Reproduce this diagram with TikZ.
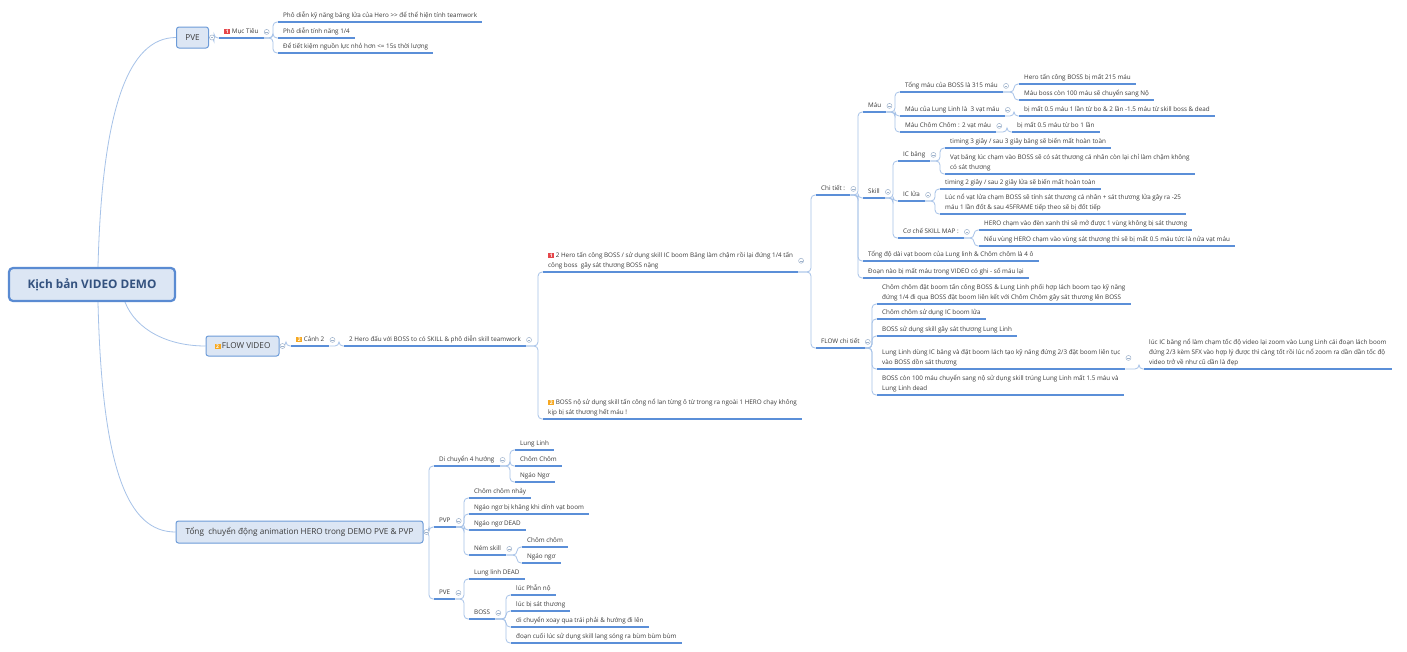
\documentclass[tikz,border=0pt]{standalone}
\usepackage{fontspec}
\setmainfont{Open Sans}
\usetikzlibrary{calc}
\pgfdeclarelayer{bg}
\pgfsetlayers{bg,main}
\definecolor{txt}{HTML}{3A3A3A}
\definecolor{ulc}{HTML}{5B8FD8}
\definecolor{cnc}{HTML}{A6C2E8}
\definecolor{boxf}{HTML}{DCE6F4}
\definecolor{boxd}{HTML}{6C9BD8}
\definecolor{rootd}{HTML}{5A8BD2}
\definecolor{roott}{HTML}{34527F}
\definecolor{icred}{HTML}{E5474B}
\definecolor{icorg}{HTML}{F6A821}
\definecolor{togc}{HTML}{9FB3CC}
\newcommand\fs{\fontsize{6.3}{9.8}\selectfont}
\newcommand\ico[2]{{\setlength\fboxsep{0.8pt}\colorbox{#1}{\makebox[4.4pt]{\textcolor{white}{\fontsize{5}{5}\selectfont\bfseries #2}}}}}
\newcommand\cnx[2]{\draw[cn] (#1.south east) -- ($(#1.south east -| #2.south west)+(-5pt,0)$) |- (#2.south west);}
\newcommand\cnb[2]{\draw[cn] (#1.east) -- ($(#1.east -| #2.south west)+(-5pt,0)$) |- (#2.south west);}
\newcommand\tg[1]{\node[tog] (#1-tg) at ($(#1.east)+(3pt,0)$) {};}
\tikzset{
  t/.style={font=\fs, text=txt, inner xsep=5pt, inner ysep=2.8pt, anchor=south west, text height=4.8pt, text depth=1.4pt, append after command={(\tikzlastnode.south west) edge[ul] (\tikzlastnode.south east)}},
  tm/.style={font=\fs, text=txt, inner xsep=5pt, inner ysep=2.8pt, anchor=south west, align=left, append after command={(\tikzlastnode.south west) edge[ul] (\tikzlastnode.south east)}},
  ul/.style={draw=ulc, line width=1.6pt},
  cn/.style={draw=cnc, line width=0.8pt, rounded corners=4pt},
  box/.style={draw=boxd, fill=boxf, line width=1pt, rounded corners=2.5pt, text=txt, font=\fontsize{8.2}{9.5}\selectfont, inner sep=0pt},
  root/.style={draw=rootd, fill=boxf, line width=2.2pt, rounded corners=4pt, text=roott, font=\fontsize{11.8}{13}\selectfont\bfseries, minimum width=166pt, minimum height=33pt},
  rc/.style={draw=cnc, line width=0.8pt},
  tog/.style={circle, draw=togc, fill=white, line width=0.5pt, minimum size=5pt, inner sep=0pt, path picture={\draw[togc,line width=0.5pt] ([xshift=-1.4pt]path picture bounding box.center) -- ([xshift=1.4pt]path picture bounding box.center);}},
}
\begin{document}
\begin{tikzpicture}[x=1pt,y=-1pt]
\begin{pgfonlayer}{bg}\fill[white] (0,0) rectangle (1407,651);\end{pgfonlayer}
\useasboundingbox (0,0) rectangle (1407,651);
% main boxes
\node[root] (root) at (92,284.5) {Kịch bản VIDEO DEMO};
\node[box,minimum width=32pt,minimum height=21pt] (pve) at (192.5,37.5) {PVE};
\node[box,minimum width=73pt,minimum height=20pt] (flow) at (242.5,346) {\ico{icorg}{2}\,FLOW VIDEO};
\node[box,minimum width=247pt,minimum height=22pt] (tong) at (299.5,532) {Tổng\ \ chuyển động animation HERO trong DEMO PVE \& PVP};
% PVE
\node[t] (muc) at (219,38) {\ico{icred}{1} Mục Tiêu};
\node[t] (m1) at (278,22) {Phô diễn kỹ năng băng lửa của Hero {>}{>} để thể hiện tính teamwork};
\node[t] (m2) at (278,38) {Phô diễn tính năng 1/4};
\node[t] (m3) at (278,53) {Để tiết kiệm nguồn lực nhỏ hơn <= 15s thời lượng};
% FLOW
\node[t] (canh) at (291,346) {\ico{icorg}{2} Cảnh 2};
\node[t] (h2) at (344,346) {2 Hero đấu với BOSS to có SKILL \& phô diễn skill teamwork};
\node[tm] (ha) at (543,272) {\ico{icred}{1} 2 Hero tấn công BOSS / sử dụng skill IC boom Băng làm chậm rồi lại đứng 1/4 tấn\\công boss\ \ gây sát thương BOSS nặng};
\node[tm] (hb) at (543,419) {\ico{icorg}{2} BOSS nộ sử dụng skill tấn công nổ lan từng ô từ trong ra ngoài 1 HERO chạy không\\kịp bị sát thương hết máu !};
\node[t] (ct) at (816,195) {Chi tiết :};
\node[t] (fct) at (816,348) {FLOW chi tiết};
\node[t] (mau) at (863,112) {Máu};
\node[t] (skill) at (863,198) {Skill};
\node[t] (tdd) at (863,261) {Tổng độ dài vạt boom của Lung linh \& Chôm chôm là 4 ô};
\node[t] (dn) at (863,278) {Đoạn nào bị mất máu trong VIDEO có ghi - số máu lại};
\node[t] (tm) at (900,92) {Tổng máu của BOSS là 315 máu};
\node[t] (ml) at (900,116) {Máu của Lung Linh là\ \ 3 vạt máu};
\node[t] (mc) at (900,132) {Máu Chôm Chôm : 2 vạt máu};
\node[t] (tm1) at (1019,84) {Hero tấn công BOSS bị mất 215 máu};
\node[t] (tm2) at (1019,100) {Máu boss còn 100 máu sẽ chuyển sang Nộ};
\node[t] (ml1) at (1019,116) {bị mất 0.5 máu 1 lần từ bo \& 2 lần -1.5 máu từ skill boss \& dead};
\node[t] (mc1) at (1012,132) {bị mất 0.5 máu từ bo 1 lần};
\node[t] (icb) at (898,161) {IC băng};
\node[t] (icl) at (898,201) {IC lửa};
\node[t] (cc) at (898,238) {Cơ chế SKILL MAP :};
\node[t] (icb1) at (945,148) {timing 3 giây / sau 3 giây băng sẽ biến mất hoàn toàn};
\node[tm] (icb2) at (945,174) {Vạt băng lúc chạm vào BOSS sẽ có sát thương cá nhân còn lại chỉ làm chậm không\\có sát thương};
\node[t] (icl1) at (940,189) {timing 2 giây / sau 2 giây lửa sẽ biến mất hoàn toàn};
\node[tm] (icl2) at (940,214) {Lúc nổ vạt lửa chạm BOSS sẽ tính sát thương cá nhân + sát thương lửa gây ra -25\\máu 1 lần đốt \& sau 45FRAME tiếp theo sẽ bị đốt tiếp};
\node[t] (cc1) at (979,230) {HERO chạm vào đèn xanh thì sẽ mở được 1 vùng không bị sát thương};
\node[t] (cc2) at (979,246) {Nếu vùng HERO chạm vào vùng sát thương thì sẽ bị mất 0.5 máu tức là nửa vạt máu};
\node[tm] (f1) at (877,304) {Chôm chôm đặt boom tấn công BOSS \& Lung Linh phối hợp lách boom tạo kỹ năng\\đứng 1/4 đi qua BOSS đặt boom liên kết với Chôm Chôm gây sát thương lên BOSS};
\node[t] (f2) at (877,319) {Chôm chôm sử dụng IC boom lửa};
\node[t] (f3) at (877,336) {BOSS sử dụng skill gây sát thương Lung Linh};
\node[tm] (f4) at (877,369) {Lung Linh dùng IC băng và đặt boom lách tạo kỹ năng đứng 2/3 đặt boom liên tục\\vào BOSS dồn sát thương};
\node[tm] (f4a) at (1144,369) {lúc IC băng nổ làm chạm tốc độ video lại zoom vào Lung Linh cái đoạn lách boom\\đứng 2/3 kèm SFX vào hợp lý được thì càng tốt rồi lúc nổ zoom ra dần dần tốc độ\\video trở về như cũ dần là đẹp};
\node[tm] (f5) at (877,395) {BOSS còn 100 máu chuyển sang nộ sử dụng skill trúng Lung Linh mất 1.5 máu và\\Lung Linh dead};
% bottom
\node[t] (dc) at (434,466) {Di chuyển 4 hướng};
\node[t] (pvp) at (434,527) {PVP};
\node[t] (pve2) at (434,599) {PVE};
\node[t] (dc1) at (515,450) {Lung Linh};
\node[t] (dc2) at (515,466) {Chôm Chôm};
\node[t] (dc3) at (515,482) {Ngáo Ngơ};
\node[t] (p1) at (469,498) {Chôm chôm nhảy};
\node[t] (p2) at (469,514) {Ngáo ngơ bị khăng khi dính vạt boom};
\node[t] (p3) at (469,530) {Ngáo ngơ DEAD};
\node[t] (p4) at (469,555) {Ném skill};
\node[t] (p41) at (522,547) {Chôm chôm};
\node[t] (p42) at (522,563) {Ngáo ngơ};
\node[t] (e1) at (469,579) {Lung linh DEAD};
\node[t] (e2) at (469,619) {BOSS};
\node[t] (b1) at (511,595) {lúc Phẫn nộ};
\node[t] (b2) at (511,611) {lúc bị sát thương};
\node[t] (b3) at (511,627) {di chuyển xoay qua trái phải \& hướng đi lên};
\node[t] (b4) at (511,643) {đoạn cuối lúc sử dụng skill lang sóng ra bùm bùm bùm};
% connectors
\begin{pgfonlayer}{bg}
\draw[rc] ($(root.north)+(6,0)$) .. controls (102,110) and (128,37.5) .. (pve.west);
\draw[rc] ($(root.south)+(33,0)$) .. controls (136,330) and (168,346) .. (flow.west);
\draw[rc] ($(root.south)+(6,0)$) .. controls (102,470) and (128,532) .. (tong.west);
\cnb{pve}{muc}
\cnx{muc}{m1}\cnx{muc}{m2}\cnx{muc}{m3}
\cnb{flow}{canh}
\cnx{canh}{h2}
\cnx{h2}{ha}\cnx{h2}{hb}
\cnx{ha}{ct}\cnx{ha}{fct}
\cnx{ct}{mau}\cnx{ct}{skill}\cnx{ct}{tdd}\cnx{ct}{dn}
\cnx{mau}{tm}\cnx{mau}{ml}\cnx{mau}{mc}
\cnx{tm}{tm1}\cnx{tm}{tm2}
\cnx{ml}{ml1}\cnx{mc}{mc1}
\cnx{skill}{icb}\cnx{skill}{icl}\cnx{skill}{cc}
\cnx{icb}{icb1}\cnx{icb}{icb2}
\cnx{icl}{icl1}\cnx{icl}{icl2}
\cnx{cc}{cc1}\cnx{cc}{cc2}
\cnx{fct}{f1}\cnx{fct}{f2}\cnx{fct}{f3}\cnx{fct}{f4}\cnx{fct}{f5}
\cnx{f4}{f4a}
\cnb{tong}{dc}\cnb{tong}{pvp}\cnb{tong}{pve2}
\cnx{dc}{dc1}\cnx{dc}{dc2}\cnx{dc}{dc3}
\cnx{pvp}{p1}\cnx{pvp}{p2}\cnx{pvp}{p3}\cnx{pvp}{p4}
\cnx{p4}{p41}\cnx{p4}{p42}
\cnx{pve2}{e1}\cnx{pve2}{e2}
\cnx{e2}{b1}\cnx{e2}{b2}\cnx{e2}{b3}\cnx{e2}{b4}
\end{pgfonlayer}
% toggles
\tg{pve}\tg{flow}\tg{tong}\tg{muc}\tg{canh}\tg{h2}\tg{ha}\tg{ct}\tg{fct}\tg{mau}\tg{skill}
\tg{tm}\tg{ml}\tg{mc}\tg{icb}\tg{icl}\tg{cc}\tg{f4}\tg{dc}\tg{pvp}\tg{pve2}\tg{p4}\tg{e2}
\end{tikzpicture}
\end{document}
